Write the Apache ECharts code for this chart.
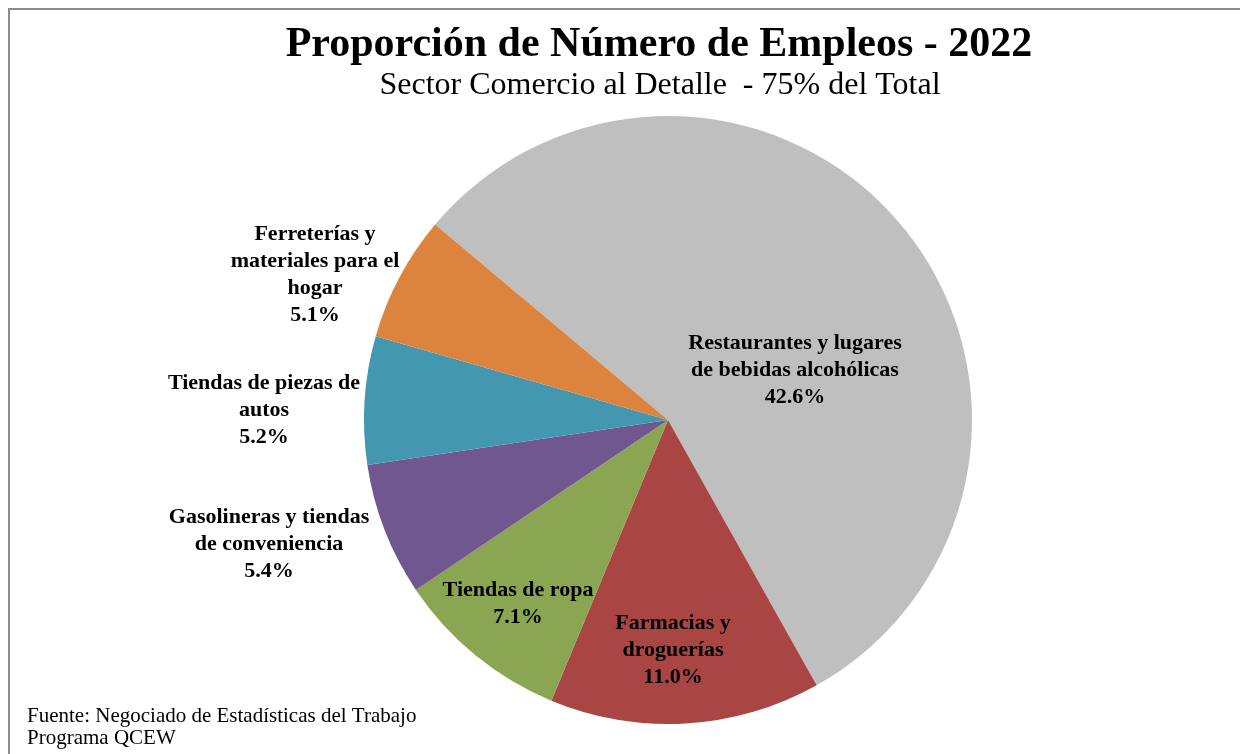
<!DOCTYPE html>
<html>
<head>
<meta charset="utf-8">
<title>Proporción de Número de Empleos - 2022</title>
<script src="https://cdn.jsdelivr.net/npm/echarts@6/dist/echarts.min.js"></script>
<style>
  html, body { margin: 0; padding: 0; background: #fff; }
  #chart { width: 1240px; height: 754px; }
</style>
</head>
<body>
<div id="chart"></div>
<script>
'use strict'
// categorias (con saltos de linea como en la etiqueta original)
var categories = [
  'Restaurantes y lugares\nde bebidas alcohólicas',
  'Farmacias y\ndroguerías',
  'Tiendas de ropa',
  'Gasolineras y tiendas\nde conveniencia',
  'Tiendas de piezas de\nautos',
  'Ferreterías y\nmateriales para el\nhogar'
]
var values = [42.6, 11.0, 7.1, 5.4, 5.2, 5.1]
var colors = ['#bfbfbf', '#a94643', '#8ba652', '#71578f', '#4398b0', '#dc843e']

// posicion de cada etiqueta (centro del bloque de texto)
var labelPos = [
  [795, 370],
  [673, 650],
  [518, 604],
  [269, 544],
  [264, 410],
  [315, 275]
]

var serif = '"Liberation Serif", "Times New Roman", serif'

var chart = echarts.init(document.getElementById('chart'))

var option = {
  backgroundColor: '#fff',
  animation: false,
  graphic: [
    {
      type: 'rect',
      shape: { x: 9, y: 9, width: 1300, height: 800 },
      style: { fill: 'none', stroke: '#8c8c8c', lineWidth: 2 },
      silent: true
    },
    {
      type: 'text',
      x: 659,
      y: 45,
      style: {
        text: 'Proporción de Número de Empleos - 2022',
        font: 'bold 42px ' + serif,
        fill: '#000',
        align: 'center',
        verticalAlign: 'middle'
      }
    },
    {
      type: 'text',
      x: 660,
      y: 86,
      style: {
        text: 'Sector Comercio al Detalle  - 75% del Total',
        font: '32px ' + serif,
        fill: '#000',
        align: 'center',
        verticalAlign: 'middle'
      }
    },
    {
      type: 'text',
      x: 27,
      y: 705,
      style: {
        text: 'Fuente: Negociado de Estadísticas del Trabajo\nPrograma QCEW',
        font: '21px ' + serif,
        lineHeight: 22,
        fill: '#000',
        align: 'left',
        verticalAlign: 'top'
      }
    }
  ],
  series: [
    {
      type: 'pie',
      center: [668, 420],
      radius: 304,
      startAngle: 140,
      clockwise: true,
      avoidLabelOverlap: false,
      color: colors,
      itemStyle: { borderWidth: 0 },
      label: {
        show: true,
        position: 'inside',
        formatter: function(p) {
          return p.name + '\n' + p.value.toFixed(1) + '%'
        },
        fontFamily: serif,
        fontWeight: 'bold',
        fontSize: 22,
        lineHeight: 27,
        color: '#000',
        align: 'center'
      },
      labelLine: { show: false },
      labelLayout: function(params) {
        var pos = labelPos[params.dataIndex]
        return {
          x: pos[0],
          y: pos[1],
          align: 'center',
          verticalAlign: 'middle'
        }
      },
      emphasis: { disabled: true },
      data: categories.map(function(name, i) {
        return { name: name, value: values[i] }
      })
    }
  ]
}

chart.setOption(option)
</script>
</body>
</html>
